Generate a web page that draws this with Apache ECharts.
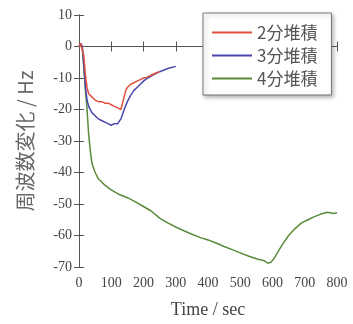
<!DOCTYPE html>
<html>
<head>
<meta charset="utf-8">
<script src="https://cdn.jsdelivr.net/npm/echarts@6/dist/echarts.min.js"></script>
<style>
  html, body { margin: 0; padding: 0; background: #fff; }
  #chart { width: 353px; height: 324px; }
</style>
</head>
<body>
<div id="chart"></div>
<script>
// 2分堆積
const t2 = [0, 5, 10, 15, 20, 25, 30, 40, 50, 60, 70, 80, 90, 100, 110, 120, 130, 135, 140, 145, 150, 160, 170, 180, 190, 200, 210, 220, 230, 240, 250]
const v2 = [0, 1, 0.5, -3, -9, -13, -15, -16, -17, -17.5, -17.5, -18, -18, -18.5, -19, -19.5, -20, -19.5, -16, -14, -13, -12, -11.5, -11, -10.5, -10, -9.8, -9.3, -8.8, -8.3, -8]
// 3分堆積
const t3 = [0, 5, 10, 15, 20, 25, 30, 40, 50, 60, 70, 80, 90, 100, 110, 120, 130, 140, 150, 160, 170, 180, 190, 200, 210, 220, 230, 240, 250, 260, 270, 280, 290, 300]
const v3 = [0, 1, 0, -6, -13, -17, -19, -21, -22, -23, -23.5, -24, -24.5, -25, -24.5, -24.5, -23, -20, -17.5, -15.5, -14, -13, -12, -11, -10.2, -9.6, -9, -8.5, -8, -7.6, -7.2, -6.8, -6.6, -6.3]
// 4分堆積
const t4 = [0, 5, 10, 15, 20, 25, 30, 35, 40, 50, 60, 70, 80, 100, 125, 150, 175, 200, 225, 250, 275, 300, 325, 350, 375, 400, 425, 450, 475, 500, 525, 550, 565, 575, 585, 595, 605, 615, 630, 650, 670, 690, 710, 730, 750, 770, 790, 800]
const v4 = [0, 1, 0, -7, -14, -20, -28, -33, -37, -40, -42, -43, -44, -45.5, -47, -48, -49.3, -50.8, -52.3, -54.5, -56, -57.3, -58.5, -59.6, -60.6, -61.4, -62.4, -63.5, -64.5, -65.5, -66.5, -67.4, -67.8, -68, -68.8, -68.5, -67.3, -65.5, -63, -60, -57.8, -56, -55, -54, -53.2, -52.6, -53, -52.8]

const seriesNames = ['2分堆積', '3分堆積', '4分堆積']
const seriesColors = ['#e0503c', '#4a48b0', '#5a8a3a']

const zip = (ts, vs) => ts.map((t, i) => [t, vs[i]])
const lines = [zip(t2, v2), zip(t3, v3), zip(t4, v4)]

const chart = echarts.init(document.getElementById('chart'))

const axisLine = { show: true, lineStyle: { color: '#555', width: 1 } }
const axisTick = { show: true, inside: true, length: 5, lineStyle: { color: '#555' } }
const serif = 'Liberation Serif, Times New Roman, serif'

const options = {
    animation: false,
    grid: { left: 79, right: 16, top: 15, bottom: 52 },
    legend: {
        orient: 'vertical',
        left: 203,
        top: 13,
        padding: [11, 14, 8, 9],
        icon: 'rect',
        itemWidth: 40,
        itemHeight: 2,
        itemGap: 6,
        backgroundColor: '#fff',
        borderColor: '#777',
        borderWidth: 1,
        shadowBlur: 4,
        shadowOffsetX: 2,
        shadowOffsetY: 2,
        shadowColor: 'rgba(0,0,0,0.3)',
        textStyle: { fontSize: 17, lineHeight: 17, color: '#555', fontFamily: 'Noto Sans CJK JP' },
        data: seriesNames
    },
    xAxis: [
        {
            type: 'value', min: 0, max: 800, interval: 100, position: 'bottom',
            name: 'Time / sec', nameLocation: 'middle', nameGap: 34,
            nameTextStyle: { fontSize: 18, color: '#444', fontFamily: serif },
            axisLine, axisTick, splitLine: { show: false },
            axisLabel: { fontSize: 14, color: '#444', fontFamily: serif, margin: 9 }
        },
        {
            type: 'value', min: 0, max: 800, interval: 100, position: 'top',
            axisLine, axisTick, splitLine: { show: false }, axisLabel: { show: false }
        }
    ],
    yAxis: [
        {
            type: 'value', min: -70, max: 10, interval: 10, position: 'left',
            name: '周波数変化 / Hz', nameLocation: 'middle', nameGap: 44, nameRotate: 90,
            nameTextStyle: { fontSize: 20, color: '#666', fontFamily: 'Noto Sans CJK JP' },
            axisLine, axisTick, splitLine: { show: false },
            axisLabel: { fontSize: 14, color: '#444', fontFamily: serif, margin: 7 }
        },
        {
            type: 'value', min: -70, max: 10, interval: 10, position: 'right',
            axisLine, axisTick, splitLine: { show: false }, axisLabel: { show: false }
        }
    ],
    series: lines.map((d, i) => ({
        name: seriesNames[i],
        type: 'line',
        data: d,
        symbol: 'none',
        color: seriesColors[i],
        lineStyle: { width: 1.5, color: seriesColors[i] },
        z: 3 - i
    }))
}

chart.setOption(options)
</script>
</body>
</html>
